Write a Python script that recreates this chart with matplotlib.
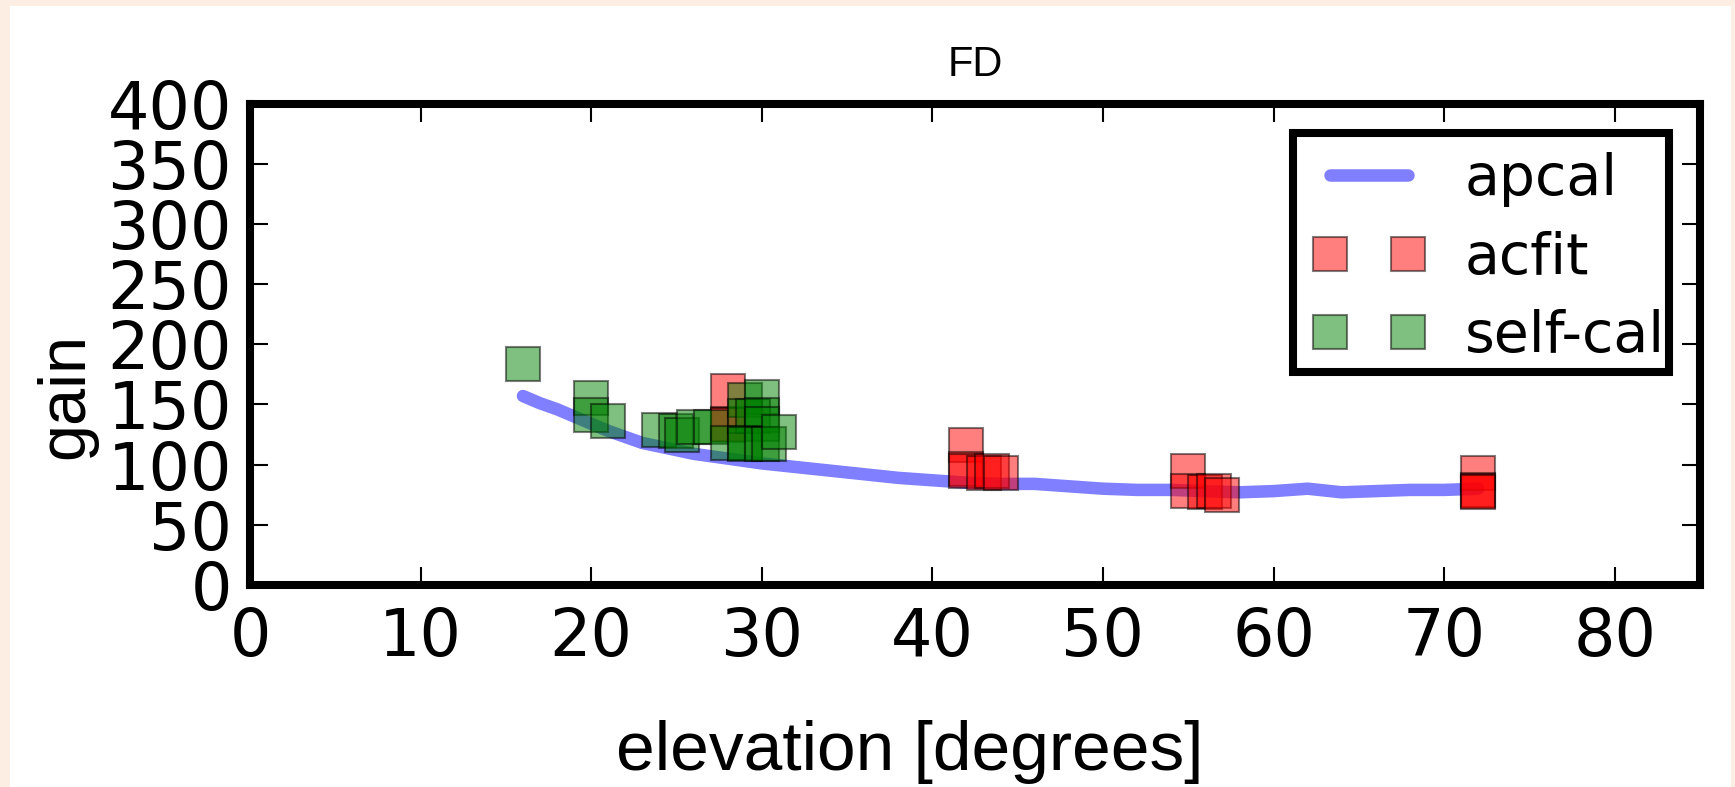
import matplotlib
matplotlib.use("Agg")
import matplotlib.pyplot as plt
from matplotlib.patches import Rectangle
from matplotlib.lines import Line2D
from matplotlib.legend_handler import HandlerLine2D

# apcal curve
apcal_el = [16, 16.5, 17, 18, 19, 20, 21, 22, 23, 24, 25, 26, 27, 28, 29, 30,
            31, 32, 33, 34, 35, 36, 38, 40, 42, 44, 46, 48, 50, 52, 54, 56,
            58, 60, 62, 64, 66, 68, 70, 72]
apcal_gain = [157, 154, 151, 146, 140, 134, 128, 123, 118, 115, 112, 109, 107,
              105, 103, 101, 99.5, 98, 96.5, 95, 93.5, 92, 89, 87, 85, 84, 84,
              82, 80, 79, 79, 78, 77, 78, 80, 77, 78, 79, 79, 80]

acfit_el = [28, 28, 28, 42, 42, 42, 43, 43.5, 44, 55, 55, 56, 56.5, 57,
            72, 72, 72, 72]
acfit_gain = [161, 134, 133, 116, 96, 95, 93, 95, 93, 95, 78, 77, 78, 75,
              93, 79, 78, 77]

selfcal_el = [16, 20, 20, 21, 24, 25, 25.3, 26, 27, 28, 29, 30, 29, 29.5,
              30, 30, 29, 29, 30, 30.4, 31]
selfcal_gain = [184, 155, 141, 136, 129, 128, 125, 131, 131, 118, 154, 156,
                140, 140, 141, 134, 118, 117, 117, 117, 127]

fig = plt.figure(figsize=(17.35, 7.87), dpi=100, facecolor='#fdeee3')
fig.add_artist(Rectangle((10 / 1735, 0), 1721 / 1735, 781 / 787,
                         facecolor='white', edgecolor='none', zorder=-1))
ax = fig.add_axes([250 / 1735, 202 / 787, 1450 / 1735, 481.5 / 787])

ax.plot(apcal_el, apcal_gain, color='blue', alpha=0.5, lw=9,
        solid_capstyle='round', label='apcal')
ax.plot(acfit_el, acfit_gain, 'rs', alpha=0.5, ms=25, mew=1.5, mec='black',
        label='acfit')
ax.plot(selfcal_el, selfcal_gain, 'gs', alpha=0.5, ms=25, mew=1.5,
        mec='black', label='self-cal')

ax.set_xlim(0, 85)
ax.set_ylim(0, 400)
ax.set_xticks(range(0, 81, 10))
ax.set_yticks(range(0, 401, 50))

for s in ax.spines.values():
    s.set_linewidth(5.8)
ax.tick_params(direction='in', top=True, right=True, length=13, width=1.5,
               labelsize=47)
ax.tick_params(axis='x', pad=15)
ax.tick_params(axis='y', pad=13)

ax.set_title('FD', fontsize=30, family='Liberation Sans', pad=20)
ax.set_xlabel('elevation [degrees]', fontsize=50, family='Liberation Sans')
ax.set_ylabel('gain', fontsize=48, family='Liberation Sans')
ax.xaxis.set_label_coords(0.455, -0.28)
ax.yaxis.set_label_coords(-0.105, 0.3925)

# legend box drawn separately so it sits tight around the entries
ax.add_patch(Rectangle((0.7193, 0.4424), 0.9786 - 0.7193, 0.9377 - 0.4424,
                       transform=ax.transAxes, facecolor='white',
                       edgecolor='black', lw=5.8, zorder=4.9, clip_on=False))
leg = ax.legend(loc='upper right', bbox_to_anchor=(0.9876, 0.9356),
                numpoints=2, fontsize=41, frameon=False,
                borderaxespad=0, borderpad=0.3, labelspacing=0.42,
                handlelength=2.25, handletextpad=0.55,
                handler_map={Line2D: HandlerLine2D(marker_pad=0.44)})

fig.savefig('out.png', dpi=100, facecolor=fig.get_facecolor())
